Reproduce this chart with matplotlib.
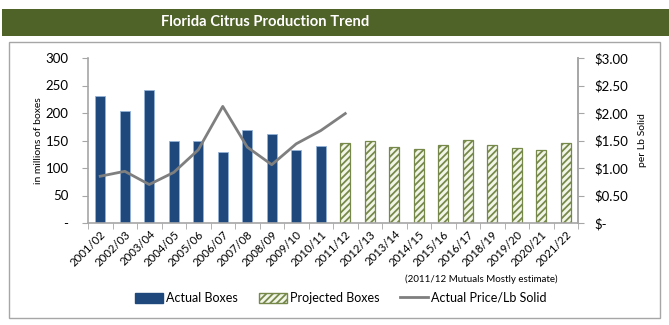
import matplotlib
matplotlib.use("Agg")
import matplotlib.pyplot as plt
import matplotlib.patches as mpatches
from matplotlib.lines import Line2D
import numpy as np

plt.rcParams['font.family'] = ['Lato', 'DejaVu Sans']
plt.rcParams['hatch.color'] = '#4F6228'
plt.rcParams['hatch.linewidth'] = 1.3

seasons = ["2001/02", "2002/03", "2003/04", "2004/05", "2005/06", "2006/07", "2007/08",
           "2008/09", "2009/10", "2010/11", "2011/12", "2012/13", "2013/14", "2014/15",
           "2015/16", "2016/17", "2018/19", "2019/20", "2020/21", "2021/22"]
actual_boxes = [230, 204, 242, 150, 149, 129, 170, 162, 133, 140]
projected_boxes = [145, 150, 139, 135, 142, 151, 142, 136, 133, 145]
price_per_lb = [0.85, 0.94, 0.70, 0.92, 1.33, 2.12, 1.38, 1.06, 1.44, 1.68, 1.99]
left_ticks = [0, 50, 100, 150, 200, 250, 300]
left_ticklabels = ["-", "50", "100", "150", "200", "250", "300"]
right_ticks = [0, 0.5, 1.0, 1.5, 2.0, 2.5, 3.0]
right_ticklabels = ["$-", "$0.50", "$1.00", "$1.50", "$2.00", "$2.50", "$3.00"]

fig = plt.figure(figsize=(6.69, 3.25), dpi=100)

# banner
fig.patches.append(mpatches.Rectangle((0.003, 1 - 36/325), 0.997, 27/325,
                                      transform=fig.transFigure, facecolor='#4F6228',
                                      edgecolor='none', zorder=0))
fig.text(0.397, 1 - 22.5/325, "Florida Citrus Production Trend", color='white',
         fontsize=10.6, fontweight='bold', ha='center', va='center')
# chart box
fig.patches.append(mpatches.Rectangle((9/669, 7/325), 651/669, (318-42)/325,
                                      transform=fig.transFigure, facecolor='white',
                                      edgecolor='#A6A6A6', linewidth=1.0, zorder=0))

ax = fig.add_axes([88/669, 1 - 223/325, (578-88)/669, (223-58)/325])
ax.set_zorder(2)
ax.patch.set_alpha(0)
n = len(seasons)
x = np.arange(n)
na = len(actual_boxes)
w = 0.42
ax.bar(x[:na], actual_boxes, width=w, color='#1F497D', edgecolor='#95B3D7', linewidth=0.6,
       label='Actual Boxes', zorder=2)
ax.bar(x[na:na+len(projected_boxes)], projected_boxes, width=w, color='#F2F6E8',
       edgecolor='#77894A', hatch='/////', linewidth=0.9, label='Projected Boxes', zorder=2)
ax.set_xlim(-0.5, n - 0.5)
ax.set_ylim(0, 300)
ax.set_yticks(left_ticks)
ax.set_yticklabels(left_ticklabels, fontsize=9.5)
ax.set_xticks(x)
ax.set_xticklabels(seasons, rotation=45, ha='right', rotation_mode='anchor', fontsize=8.2)
ax.set_xticks(np.arange(-0.5, n, 1), minor=True)
ax.tick_params(axis='x', which='major', length=0, pad=4)
ax.tick_params(axis='x', which='minor', length=4, color='#A6A6A6')
ax.tick_params(axis='y', length=4, color='#A6A6A6', pad=10)
ax.set_ylabel("in millions of boxes", fontsize=7.5, labelpad=2)
ax.spines['top'].set_visible(False)
for s in ['left', 'right', 'bottom']:
    ax.spines[s].set_color('#A6A6A6')
    ax.spines[s].set_linewidth(1.2)

ax2 = ax.twinx()
ax2.set_zorder(3)
ax2.patch.set_alpha(0)
ax2.plot(x[:len(price_per_lb)], price_per_lb, color='#7F7F7F', linewidth=2.0,
         label='Actual Price/Lb Solid', zorder=3)
ax2.set_ylim(0, 3)
ax2.set_yticks(right_ticks)
ax2.set_yticklabels(right_ticklabels, fontsize=9.5)
ax2.tick_params(axis='y', length=4, color='#A6A6A6', pad=8)
ax2.set_ylabel("per Lb Solid", fontsize=7.5, labelpad=7)
ax2.spines['top'].set_visible(False)
ax2.spines['right'].set_color('#A6A6A6')
ax2.spines['right'].set_linewidth(1.2)
ax2.spines['left'].set_visible(False)
ax2.spines['bottom'].set_visible(False)

fig.text(481/669, 1 - 279/325, "(2011/12 Mutuals Mostly estimate)", fontsize=7,
         ha='center', va='center')

handles = [mpatches.Patch(facecolor='#1F497D', edgecolor='#1F497D'),
           mpatches.Patch(facecolor='#F2F6E8', edgecolor='#77894A', hatch='/////'),
           Line2D([0], [0], color='#7F7F7F', linewidth=2.0)]
labels = ['Actual Boxes', 'Projected Boxes', 'Actual Price/Lb Solid']
fig.legend(handles, labels, loc='center', bbox_to_anchor=(341/669, 1 - 298/325), ncol=3,
           frameon=False, fontsize=9, handlelength=2.2, handleheight=0.9,
           columnspacing=1.7, handletextpad=0.25)

fig.savefig("out.png", dpi=100)
